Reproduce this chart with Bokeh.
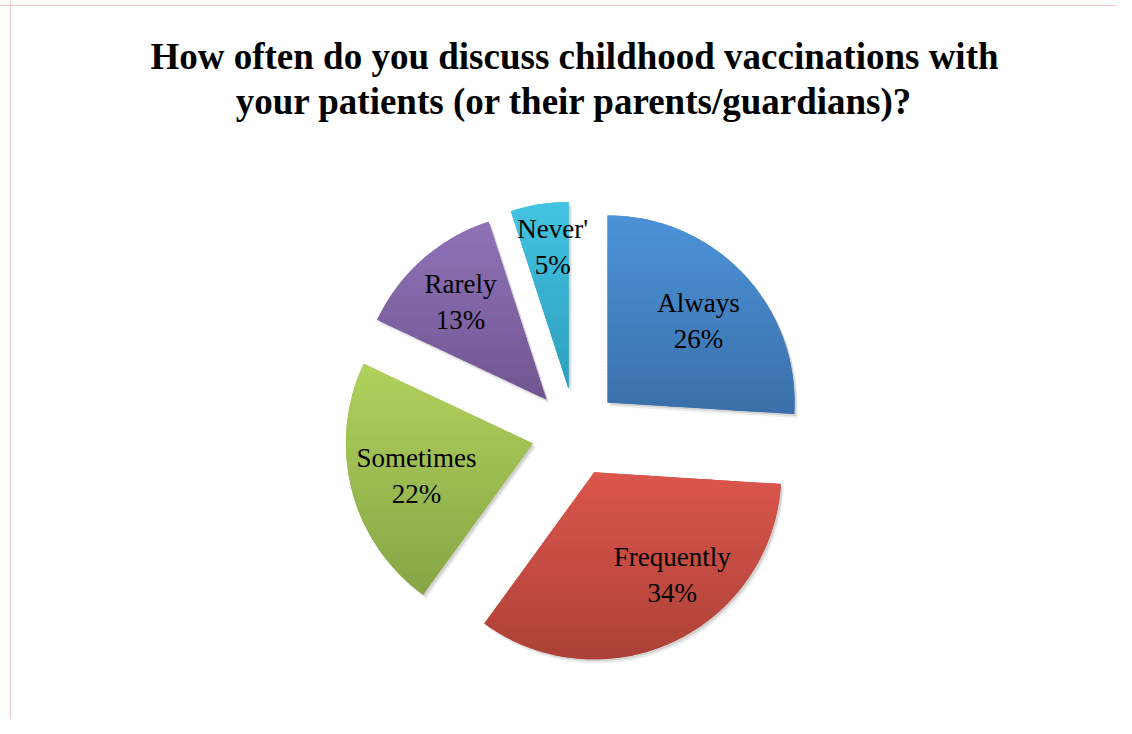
import numpy as np
from bokeh.plotting import figure
from bokeh.models import Range1d, Span
from bokeh.core.properties import value
from bokeh.embed import file_html
from bokeh.resources import INLINE

# ---- data ----
categories = ["Always", "Frequently", "Sometimes", "Rarely", "Never'"]
percents = [26, 34, 22, 13, 5]
title_lines = ["How often do you discuss childhood vaccinations with",
               "your patients (or their parents/guardians)?"]

# ---- style ----
top_colors = ["#4C93D8", "#DB564C", "#B1D15D", "#9073B8", "#43C4E3"]
bottom_colors = ["#3A6FA9", "#AD4137", "#87A545", "#715590", "#2E9EBC"]
mid_colors = ["#4381C1", "#C94C43", "#9DBD51", "#8064A4", "#39B1D0"]
label_dist = [166, 172, 165, 174, 187]
label_adj_deg = [1, -9, -1, 0, 2]

W, H = 1116, 718
CX, CY = 575, H - 432
R = 187
EXPLODE = 44

p = figure(width=W, height=H, x_range=Range1d(0, W), y_range=Range1d(0, H),
           output_backend="svg", toolbar_location=None,
           x_axis_type=None, y_axis_type=None, min_border=0)
p.grid.visible = False
p.outline_line_color = None
p.background_fill_color = "white"
p.border_fill_color = "white"

# page border (pinkish thin lines at left and top)
p.add_layout(Span(location=10, dimension="height", line_color="#F0C4C4", line_width=1))
p.add_layout(Span(location=H - 5, dimension="width", line_color="#F0C4C4", line_width=1))

vals = np.array(percents, dtype=float)
cum = np.concatenate([[0], np.cumsum(vals)]) / vals.sum() * 2 * np.pi  # clockwise from top
a0 = cum[:-1]
a1 = cum[1:]
mid = (a0 + a1) / 2
cxs = CX + EXPLODE * np.sin(mid)
cys = CY + EXPLODE * np.cos(mid)
start_ang = np.pi / 2 - a0
end_ang = np.pi / 2 - a1

# soft shadows
for dx, dy, al in [(3, -4, 0.10), (2, -2, 0.15)]:
    p.wedge(x=cxs + dx, y=cys + dy, radius=R, start_angle=start_ang, end_angle=end_ang,
            direction="clock", fill_color="#404040", fill_alpha=al, line_color=None)

# base wedges
p.wedge(x=cxs, y=cys, radius=R, start_angle=start_ang, end_angle=end_ang,
        direction="clock", fill_color=mid_colors, line_color=None)


# vertical gradient overlay made of clipped strips of each slice
def clip(poly, y0, keep_above):
    out = []
    n = len(poly)
    for i in range(n):
        P = poly[i]
        Q = poly[(i + 1) % n]
        inP = P[1] >= y0 if keep_above else P[1] <= y0
        inQ = Q[1] >= y0 if keep_above else Q[1] <= y0
        if inP:
            out.append(P)
        if inP != inQ:
            t = (y0 - P[1]) / (Q[1] - P[1])
            out.append((P[0] + t * (Q[0] - P[0]), y0))
    return out


def hex2rgb(h):
    h = h.lstrip("#")
    return np.array([int(h[i:i + 2], 16) for i in (0, 2, 4)], dtype=float)


xs_all, ys_all, cols = [], [], []
N = 50
for i in range(len(vals)):
    t = np.linspace(a0[i], a1[i], 120)
    poly = [(cxs[i], cys[i])] + [(cxs[i] + R * np.sin(a), cys[i] + R * np.cos(a)) for a in t]
    ymin = min(q[1] for q in poly)
    ymax = max(q[1] for q in poly)
    ct, cb = hex2rgb(top_colors[i]), hex2rgb(bottom_colors[i])
    edges = np.linspace(ymax, ymin, N + 1)
    for k in range(N):
        hi = edges[k] + 0.6
        lo = edges[k + 1] - 0.6
        sp = clip(clip(poly, lo, True), hi, False)
        if len(sp) < 3:
            continue
        f = (k + 0.5) / N
        c = ct * (1 - f) + cb * f
        xs_all.append([q[0] for q in sp])
        ys_all.append([q[1] for q in sp])
        cols.append("#%02x%02x%02x" % tuple(int(round(v)) for v in c))

p.patches(xs=xs_all, ys=ys_all, fill_color=cols, line_color=None)

# labels
lab_ang = mid + np.deg2rad(label_adj_deg)
lx = CX + np.array(label_dist) * np.sin(lab_ang)
ly = CY + np.array(label_dist) * np.cos(lab_ang)
labels = [f"{c}\n{v}%" for c, v in zip(categories, percents)]
p.text(x=lx, y=ly, text=labels, text_font=value("Liberation Serif"),
       text_font_size="27px", text_align="center", text_baseline="middle",
       text_color="black", text_line_height=1.2)

# title
p.text(x=[574, 574], y=[H - 56, H - 101], text=title_lines,
       text_font=value("Liberation Serif"), text_font_style="bold",
       text_font_size="37px", text_align="center", text_baseline="alphabetic",
       text_color="black")

open("out.html", "w").write(file_html(p, INLINE))
